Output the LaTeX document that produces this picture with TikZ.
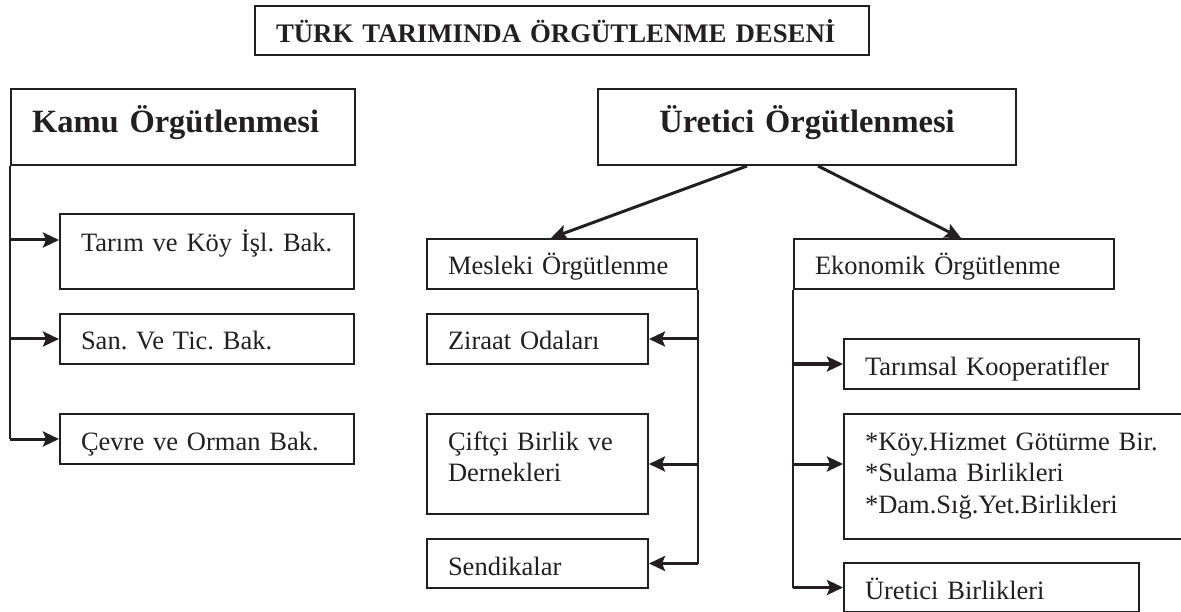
\documentclass[tikz,border=0pt]{standalone}
\usepackage{fontspec}
\setmainfont{Liberation Serif}
\usepackage{xcolor}
\usepackage{tikz}
\usetikzlibrary{positioning}
\usetikzlibrary{arrows.meta}
\definecolor{koyu}{RGB}{35,31,32}
\tikzset{kutu/.style={draw=koyu,line width=2pt,anchor=north west,align=left,
        inner xsep=21pt,inner ysep=0pt,text=koyu,
        font=\fontsize{26.5}{31.5}\selectfont,text height=36pt,text depth=14pt},
    baslik/.style={kutu,font=\bfseries\fontsize{32.5}{38}\selectfont,
        text height=44pt,text depth=32pt},
    hat/.style={draw=koyu,line width=2pt},
    ok/.style={draw=koyu,line width=3pt,-{Stealth[length=16pt,width=15pt,inset=3pt]}}}

\begin{document}
\frenchspacing
\begin{tikzpicture}[x=1pt,y=-1pt]
\useasboundingbox (0,0) rectangle (1181,612);
\fill[white] (0,0) rectangle (1181,612);
\clip (0,0) rectangle (1181,612);
\node[kutu,font=\bfseries\fontsize{26.8}{32}\selectfont,text width=572pt,text height=37pt,text depth=12pt] (desen) at (254,5) {TÜRK TARIMINDA ÖRGÜTLENME DESENİ};
\node[baslik,text width=302pt] (kamu) at (10,88) {Kamu Örgütlenmesi};
\node[kutu,text width=252pt,text height=38pt,text depth=37pt] (tarim) at (59,213) {Tarım ve Köy İşl. Bak.};
\node[kutu,text width=252pt] (sanayi) at (59,313) {San. Ve Tic. Bak.};
\node[kutu,text width=252pt] (cevre) at (59,413) {Çevre ve Orman Bak.};
\node[baslik,align=center,text width=376pt] (uretici) at (597,88) {Üretici Örgütlenmesi};
\node[kutu,text width=228pt] (mesleki) at (426,238) {Mesleki Örgütlenme};
\node[kutu,text width=179pt] (ziraat) at (426,313) {Ziraat Odaları};
\node[kutu,text width=179pt,text depth=64pt] (ciftci) at (426,413) {Çiftçi Birlik ve\\Dernekleri};
\node[kutu,text width=179pt,text depth=13pt] (sendika) at (426,538) {Sendikalar};
\node[kutu,text width=278pt] (ekonomik) at (793,238) {Ekonomik Örgütlenme};
\node[kutu,text width=253pt] (koop) at (843,338) {Tarımsal Kooperatifler};
\node[kutu,text width=303pt,text depth=89pt] (hizmet) at (843,413) {*Köy.Hizmet Götürme Bir.\\{}*Sulama Birlikleri\\{}*Dam.Sığ.Yet.Birlikleri};
\node[kutu,text width=253pt,text depth=13pt] (birlik) at (843,562) {Üretici Birlikleri};

\coordinate (t1) at ([yshift=11.5pt]tarim.west);
\coordinate (h1) at ([yshift=12.5pt]hizmet.west);

\draw[hat] (kamu.south west) -- (kamu.south west |- cevre.west);
\draw[ok] (t1 -| kamu.south west) -- (t1);
\draw[ok] (kamu.south west |- sanayi.west) -- (sanayi.west);
\draw[ok] (kamu.south west |- cevre.west) -- (cevre.west);

\draw[ok] ([xshift=-60pt]uretici.south) -- ([xshift=-11pt]mesleki.north);
\draw[ok] ([xshift=11pt]uretici.south) -- ([xshift=7pt]ekonomik.north);

\draw[hat] (mesleki.south east) -- (mesleki.south east |- sendika.east);
\draw[ok] (mesleki.south east |- ziraat.east) -- (ziraat.east);
\draw[ok] (mesleki.south east |- ciftci.east) -- (ciftci.east);
\draw[ok] (mesleki.south east |- sendika.east) -- (sendika.east);

\draw[hat] (ekonomik.south west) -- (ekonomik.south west |- birlik.west);
\draw[ok] (ekonomik.south west |- koop.west) -- (koop.west);
\draw[ok] (h1 -| ekonomik.south west) -- (h1);
\draw[ok] (ekonomik.south west |- birlik.west) -- (birlik.west);
\end{tikzpicture}
\end{document}
